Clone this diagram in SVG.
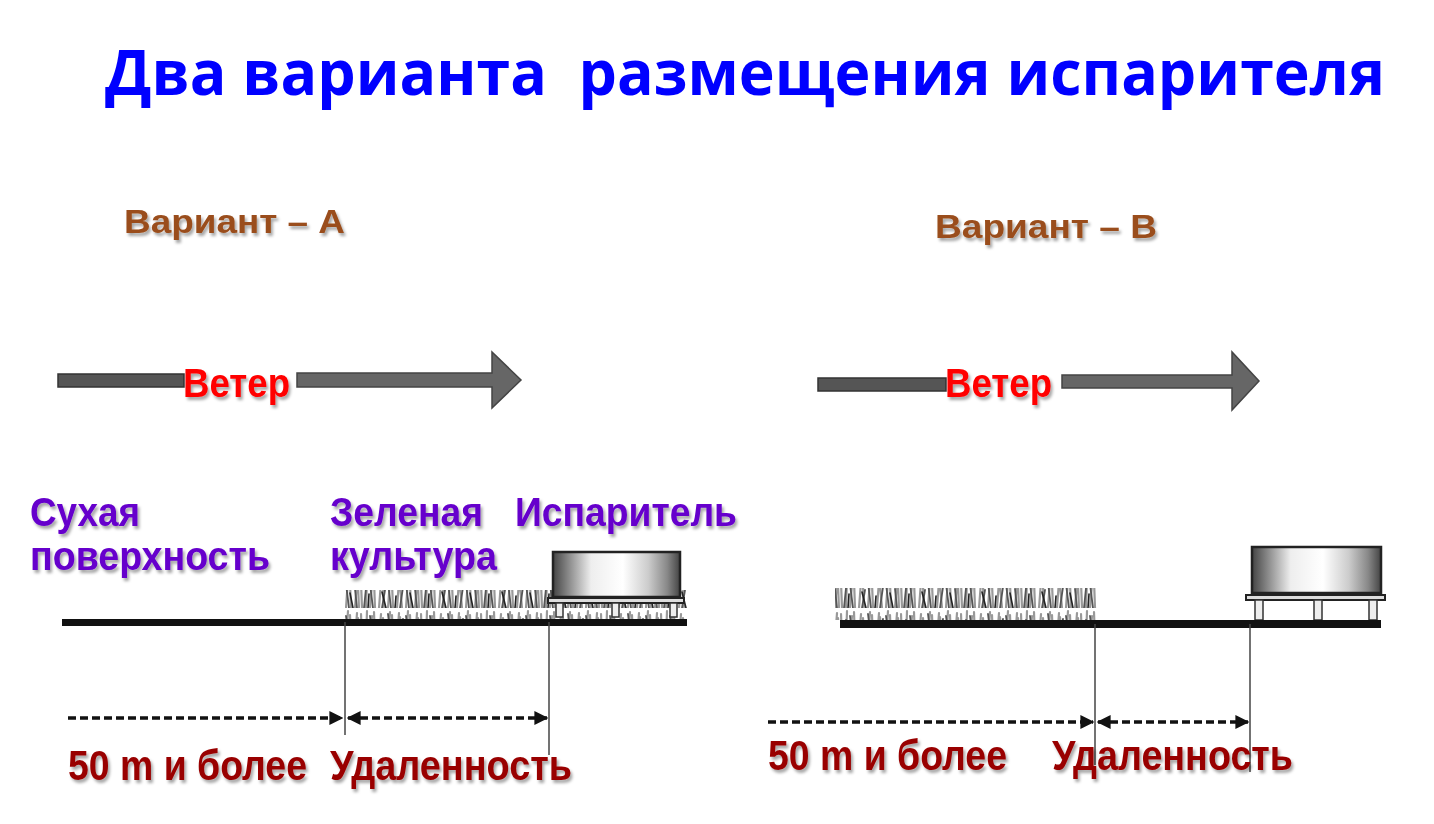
<svg xmlns="http://www.w3.org/2000/svg" width="1434" height="824" viewBox="0 0 1434 824">
<style>
.lbl{font-family:"Liberation Sans",Arial,sans-serif;font-weight:bold;filter:url(#sh)}
.title{font-family:"Open Sans","Liberation Sans",sans-serif;font-weight:bold;fill:#0000FF;font-size:62px;white-space:pre}
.var{fill:#9A4E1C;font-size:34px}
.wind{fill:#FF0000;font-size:41px}
.pur{fill:#6600CC;font-size:40px}
.red{fill:#990000;font-size:42px}
.ground{fill:#111}
.vline{stroke:#444;stroke-width:1.5}
.dash{stroke:#111;stroke-width:3.5;stroke-dasharray:8 4;fill:none}
.shaftL{fill:#555;stroke:#333;stroke-width:1.5}
.shaftR{fill:#666;stroke:#444;stroke-width:1.5}
.box{fill:url(#metal);stroke:#222;stroke-width:2.5}
.plat{fill:#ddd;stroke:#222;stroke-width:2}
.leg{fill:#eee;stroke:#333;stroke-width:1.5}
</style>
<defs>
<filter id="sh" x="-5%" y="-20%" width="115%" height="150%">
<feDropShadow dx="2" dy="3" stdDeviation="1.5" flood-color="#000" flood-opacity="0.35"/>
</filter>
<linearGradient id="metal" x1="0" x2="1" y1="0" y2="0">
<stop offset="0" stop-color="#444"/>
<stop offset="0.15" stop-color="#999"/>
<stop offset="0.3" stop-color="#eee"/>
<stop offset="0.55" stop-color="#fff"/>
<stop offset="0.75" stop-color="#ccc"/>
<stop offset="0.9" stop-color="#888"/>
<stop offset="1" stop-color="#444"/>
</linearGradient>
<pattern id="grass" width="60" height="32" patternUnits="userSpaceOnUse">
<g fill="none" stroke-linecap="round">
<path d="M2 32L1 6M6 32L7 3M10 32L12 8M15 32L14 4M19 32L21 6M24 32L23 10M28 32L30 4M33 32L32 7M37 32L39 5M42 32L40 9M46 32L48 3M51 32L50 7M55 32L57 5M59 32L58 10" stroke="#999" stroke-width="2.2"/>
<path d="M4 32L6 12M13 32L10 8M22 32L25 14M31 32L28 6M40 32L43 11M49 32L46 8M57 32L55 13" stroke="#555" stroke-width="1.8"/>
<path d="M8 32L9 18M26 32L22 16M35 32L36 20M53 32L50 17" stroke="#222" stroke-width="1.6"/>
</g>
</pattern>
<marker id="ah" viewBox="0 0 10 10" refX="9" refY="5" markerWidth="4" markerHeight="4" orient="auto-start-reverse" markerUnits="strokeWidth">
<path d="M0 0L10 5L0 10z" fill="#111"/>
</marker>
</defs>

<g id="title">
<text class="title" x="105" y="95" textLength="1280" lengthAdjust="spacingAndGlyphs">Два варианта  размещения испарителя</text>
</g>

<g id="variant-a-label"><text class="lbl var" x="124" y="233" textLength="221" lengthAdjust="spacingAndGlyphs">Вариант – А</text></g>
<g id="variant-b-label"><text class="lbl var" x="935" y="238" textLength="222" lengthAdjust="spacingAndGlyphs">Вариант – В</text></g>

<g id="wind-a">
<rect class="shaftL" x="58" y="374" width="126" height="13"/>
<path class="shaftR" d="M297 373H492V352L521 380L492 408V387H297Z"/>
<text class="lbl wind" x="183" y="397" textLength="107" lengthAdjust="spacingAndGlyphs">Ветер</text>
</g>
<g id="wind-b">
<rect class="shaftL" x="818" y="378" width="128" height="13"/>
<path class="shaftR" d="M1062 375H1232V352L1259 381L1232 410V388H1062Z"/>
<text class="lbl wind" x="945" y="397" textLength="107" lengthAdjust="spacingAndGlyphs">Ветер</text>
</g>

<g id="labels-a">
<text class="lbl pur" x="30" y="526" textLength="110" lengthAdjust="spacingAndGlyphs">Сухая</text>
<text class="lbl pur" x="30" y="570" textLength="240" lengthAdjust="spacingAndGlyphs">поверхность</text>
<text class="lbl pur" x="330" y="526" textLength="153" lengthAdjust="spacingAndGlyphs">Зеленая</text>
<text class="lbl pur" x="330" y="570" textLength="167" lengthAdjust="spacingAndGlyphs">культура</text>
<text class="lbl pur" x="515" y="526" textLength="222" lengthAdjust="spacingAndGlyphs">Испаритель</text>
</g>

<g id="scene-a">
<rect x="345" y="590" width="342" height="30" fill="url(#grass)"/>
<rect class="plat" x="548" y="598" width="136" height="5"/>
<rect class="leg" x="556" y="603" width="7" height="14"/>
<rect class="leg" x="612" y="603" width="7" height="14"/>
<rect class="leg" x="670" y="603" width="7" height="14"/>
<rect class="box" x="553" y="552" width="127" height="45"/>
<rect class="ground" x="62" y="619" width="625" height="7"/>
</g>

<g id="scene-b">
<rect x="835" y="588" width="262" height="32" fill="url(#grass)"/>
<rect class="plat" x="1246" y="595" width="139" height="5"/>
<rect class="leg" x="1255" y="600" width="8" height="20"/>
<rect class="leg" x="1314" y="600" width="8" height="20"/>
<rect class="leg" x="1369" y="600" width="8" height="20"/>
<rect class="box" x="1252" y="547" width="129" height="46"/>
<rect class="ground" x="840" y="620" width="541" height="8"/>
</g>

<g id="connectors">
<line class="vline" x1="345" y1="622" x2="345" y2="735"/>
<line class="vline" x1="549" y1="622" x2="549" y2="755"/>
<line class="dash" x1="68" y1="718" x2="342" y2="718" marker-end="url(#ah)"/>
<line class="dash" x1="348" y1="718" x2="547" y2="718" marker-start="url(#ah)" marker-end="url(#ah)"/>
<line class="vline" x1="1095" y1="624" x2="1095" y2="765"/>
<line class="vline" x1="1250" y1="624" x2="1250" y2="772"/>
<line class="dash" x1="768" y1="722" x2="1093" y2="722" marker-end="url(#ah)"/>
<line class="dash" x1="1098" y1="722" x2="1248" y2="722" marker-start="url(#ah)" marker-end="url(#ah)"/>
</g>

<g id="distance-labels">
<text class="lbl red" x="68" y="780" textLength="239" lengthAdjust="spacingAndGlyphs">50 m и более</text>
<text class="lbl red" x="330" y="780" textLength="242" lengthAdjust="spacingAndGlyphs">Удаленность</text>
<text class="lbl red" x="768" y="770" textLength="239" lengthAdjust="spacingAndGlyphs">50 m и более</text>
<text class="lbl red" x="1052" y="770" textLength="241" lengthAdjust="spacingAndGlyphs">Удаленность</text>
</g>
</svg>
